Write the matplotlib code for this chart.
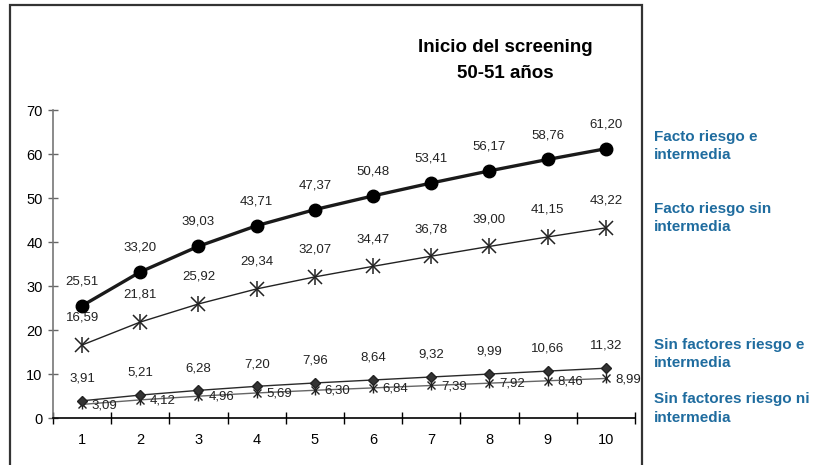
import numpy as np
import matplotlib.pyplot as plt
from matplotlib.patches import Rectangle
from matplotlib.ticker import FixedLocator, NullFormatter

plt.rcParams['font.family'] = ['Liberation Sans', 'DejaVu Sans']

years = [1, 2, 3, 4, 5, 6, 7, 8, 9, 10]
riesgo_inter = [25.51, 33.20, 39.03, 43.71, 47.37, 50.48, 53.41, 56.17, 58.76, 61.20]
riesgo_sin = [16.59, 21.81, 25.92, 29.34, 32.07, 34.47, 36.78, 39.00, 41.15, 43.22]
sin_riesgo_inter = [3.91, 5.21, 6.28, 7.20, 7.96, 8.64, 9.32, 9.99, 10.66, 11.32]
sin_riesgo_ni = [3.09, 4.12, 4.96, 5.69, 6.30, 6.84, 7.39, 7.92, 8.46, 8.99]

legend_lines = [
    ("Facto riesgo e", "intermedia"),
    ("Facto riesgo sin", "intermedia"),
    ("Sin factores riesgo e", "intermedia"),
    ("Sin factores riesgo ni", "intermedia"),
]

def fmt(v):
    return ("%.2f" % v).replace(".", ",")

W, H = 820, 465
fig = plt.figure(figsize=(W / 100, H / 100), dpi=100)
ax = fig.add_axes([53 / W, 1 - 418 / H, 582 / W, 308 / H])

# outer frame around the chart (runs off the bottom edge)
fig.patches.append(Rectangle((10 / W, -0.05), 632 / W, 1.05 - 5 / H,
                             transform=fig.transFigure, fill=False,
                             edgecolor='#333333', linewidth=1.6, clip_on=False))

x = np.array(years)

ax.plot(x, riesgo_inter, color='#1a1a1a', linewidth=2.4, marker='o',
        markersize=9, markerfacecolor='black', markeredgecolor='black', zorder=5)

ax.plot(x, riesgo_sin, color='#222222', linewidth=1.0, marker='x',
        markersize=10, markeredgewidth=1.1, zorder=4)
ax.plot(x, riesgo_sin, linestyle='none', marker='|', color='#222222',
        markersize=12, markeredgewidth=1.1, zorder=4)

ax.plot(x, sin_riesgo_inter, color='#2a2a2a', linewidth=1.0, marker='D',
        markersize=5.5, markerfacecolor='#333333', markeredgecolor='#222222', zorder=4)

ax.plot(x, sin_riesgo_ni, color='#666666', linewidth=1.0, marker='x',
        markersize=6, markeredgecolor='#222222', markeredgewidth=1.0, zorder=3)
ax.plot(x, sin_riesgo_ni, linestyle='none', marker='|', color='#222222',
        markersize=7, markeredgewidth=1.0, zorder=3)

lab = dict(fontsize=9.5, color='#222222', ha='center', va='center',
           textcoords='offset points')
for xi, v in zip(x, riesgo_inter):
    ax.annotate(fmt(v), (xi, v), xytext=(0, 17.5), **lab)
for xi, v in zip(x, riesgo_sin):
    ax.annotate(fmt(v), (xi, v), xytext=(0, 19.5), **lab)
for xi, v in zip(x, sin_riesgo_inter):
    ax.annotate(fmt(v), (xi, v), xytext=(0, 16), **lab)
for xi, v in zip(x, sin_riesgo_ni):
    ax.annotate(fmt(v), (xi, v), xytext=(7, -0.5), fontsize=9.5, color='#222222',
                ha='left', va='center', textcoords='offset points',
                annotation_clip=False)

ax.set_xlim(0.5, 10.5)
ax.set_ylim(0, 70)
ax.set_yticks(range(0, 71, 10))
ax.xaxis.set_major_locator(FixedLocator(np.arange(0.5, 11, 1)))
ax.xaxis.set_major_formatter(NullFormatter())
ax.xaxis.set_minor_locator(FixedLocator(x))
ax.set_xticklabels([str(y) for y in years], minor=True)
ax.tick_params(axis='x', which='major', direction='inout', length=8, width=1, color='black')
ax.tick_params(axis='x', which='minor', length=0, pad=11, labelsize=10.5)
ax.tick_params(axis='y', direction='inout', length=7, width=1, color='#666666',
               labelsize=10.5, pad=4)

for s in ('top', 'right'):
    ax.spines[s].set_visible(False)
ax.spines['left'].set_color('#777777')
ax.spines['left'].set_linewidth(1.2)
ax.spines['bottom'].set_color('black')
ax.spines['bottom'].set_linewidth(1.2)

fig.text(505 / W, 1 - 47 / H, "Inicio del screening", fontsize=13.5,
         fontweight='bold', ha='center', va='center')
fig.text(505 / W, 1 - 73 / H, "50-51 años", fontsize=13.5,
         fontweight='bold', ha='center', va='center')

# series names on the right
blue = '#1f6c9f'
baselines = [(140.5, 159), (212.5, 231), (348.5, 367), (402.5, 422)]
for (l1, l2), (b1, b2) in zip(legend_lines, baselines):
    fig.text(654 / W, 1 - b1 / H, l1, fontsize=11, fontweight='bold',
             color=blue, ha='left', va='baseline')
    fig.text(654 / W, 1 - b2 / H, l2, fontsize=11, fontweight='bold',
             color=blue, ha='left', va='baseline')

fig.savefig('out.png', dpi=100)
